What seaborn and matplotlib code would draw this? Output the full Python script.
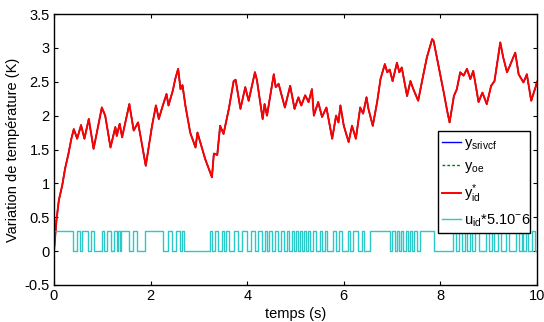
import numpy as np
import pandas as pd
import matplotlib
matplotlib.use("Agg")
import matplotlib.pyplot as plt
import seaborn as sns

# ---- data ----
t_y = [0.0, 0.05, 0.10, 0.17, 0.23, 0.30, 0.36, 0.41, 0.48, 0.56, 0.63, 0.72, 0.82, 0.99, 1.06,
       1.17, 1.27, 1.30, 1.36, 1.41, 1.56, 1.65, 1.74, 1.90, 2.03, 2.11, 2.17, 2.24, 2.33, 2.37,
       2.46, 2.51, 2.57, 2.62, 2.66, 2.72, 2.82, 2.93, 2.97, 3.13, 3.27, 3.31, 3.38, 3.44, 3.51,
       3.62, 3.72, 3.76, 3.86, 3.96, 4.03, 4.16, 4.20, 4.32, 4.36, 4.41, 4.55, 4.59, 4.65, 4.78,
       4.89, 4.98, 5.06, 5.12, 5.20, 5.27, 5.34, 5.38, 5.47, 5.55, 5.64, 5.76, 5.84, 5.89, 5.93,
       6.00, 6.10, 6.17, 6.25, 6.34, 6.40, 6.47, 6.51, 6.60, 6.69, 6.76, 6.85, 6.90, 6.95, 7.01,
       7.10, 7.15, 7.20, 7.27, 7.31, 7.38, 7.44, 7.54, 7.62, 7.72, 7.83, 7.86, 7.96, 8.07, 8.14,
       8.19, 8.28, 8.34, 8.41, 8.48, 8.55, 8.62, 8.68, 8.79, 8.87, 8.96, 9.05, 9.12, 9.24, 9.30,
       9.38, 9.44, 9.55, 9.62, 9.72, 9.79, 9.88, 9.97, 10.0]
y_vals = [0.0, 0.45, 0.75, 0.97, 1.22, 1.44, 1.66, 1.80, 1.66, 1.86, 1.66, 1.95, 1.51, 2.12, 2.00,
          1.53, 1.83, 1.70, 1.88, 1.68, 2.17, 1.78, 1.90, 1.26, 1.85, 2.15, 1.95, 2.12, 2.32, 2.15,
          2.37, 2.54, 2.69, 2.39, 2.45, 2.15, 1.75, 1.53, 1.75, 1.36, 1.09, 1.44, 1.42, 1.85, 1.73,
          2.10, 2.51, 2.53, 2.10, 2.42, 2.22, 2.64, 2.53, 1.95, 2.17, 2.00, 2.61, 2.42, 2.47, 2.12,
          2.44, 2.10, 2.27, 2.15, 2.30, 2.20, 2.39, 2.00, 2.20, 1.98, 2.12, 1.66, 2.00, 1.90, 2.15,
          1.85, 1.61, 1.85, 1.66, 2.12, 2.03, 2.27, 2.10, 1.85, 2.20, 2.54, 2.76, 2.64, 2.68, 2.51,
          2.78, 2.64, 2.71, 2.44, 2.29, 2.51, 2.39, 2.22, 2.51, 2.86, 3.13, 3.10, 2.74, 2.34, 2.07,
          1.90, 2.29, 2.39, 2.64, 2.59, 2.69, 2.54, 2.66, 2.20, 2.34, 2.17, 2.44, 2.51, 3.08, 2.86,
          2.64, 2.74, 2.93, 2.61, 2.49, 2.61, 2.22, 2.42, 2.50]

# switching instants of the excitation (starts high)
u_switch = [0.40, 0.47, 0.54, 0.59, 0.71, 0.76, 0.82, 0.99, 1.04, 1.10, 1.19, 1.24, 1.30, 1.33,
            1.36, 1.39, 1.55, 1.63, 1.72, 1.88, 2.26, 2.35, 2.45, 2.52, 2.60, 2.65, 2.69, 3.23,
            3.28, 3.33, 3.40, 3.47, 3.52, 3.56, 3.62, 3.73, 3.80, 3.90, 4.00, 4.08, 4.16, 4.22,
            4.30, 4.36, 4.40, 4.46, 4.52, 4.58, 4.63, 4.70, 4.76, 4.82, 4.86, 4.92, 4.96, 5.02,
            5.06, 5.10, 5.14, 5.18, 5.22, 5.26, 5.30, 5.36, 5.42, 5.50, 5.55, 5.62, 5.66, 5.78,
            5.83, 5.90, 5.96, 6.08, 6.12, 6.20, 6.30, 6.38, 6.42, 6.55, 6.95, 7.00, 7.05, 7.10,
            7.14, 7.18, 7.23, 7.28, 7.33, 7.37, 7.42, 7.46, 7.52, 7.57, 7.86, 8.27, 8.32, 8.38,
            8.44, 8.50, 8.56, 8.62, 8.66, 8.72, 8.80, 8.94, 9.00, 9.06, 9.12, 9.20, 9.26, 9.36,
            9.42, 9.56, 9.62, 9.68, 9.72, 9.78, 9.82, 9.90, 9.96]
u_high = 0.3
u_low = 0.0

labels = [r"y$_{srivcf}$", r"y$_{oe}$", r"y$^{*}_{id}$", r"u$_{id}$*5.10$^{-}$6"]
x_ticks = [0, 2, 4, 6, 8, 10]
y_ticks = [-0.5, 0, 0.5, 1, 1.5, 2, 2.5, 3, 3.5]
xlabel = "temps (s)"
ylabel = "Variation de température (K)"

# ---- build frames ----
df_y = pd.DataFrame({"t": t_y, "y": y_vals})
u_t = [0.0] + u_switch + [10.0]
u_v = [u_high if i % 2 == 0 else u_low for i in range(len(u_t) - 1)]
u_v.append(u_v[-1])
df_u = pd.DataFrame({"t": u_t, "u": u_v})

plt.rcParams["font.family"] = ["Liberation Sans", "DejaVu Sans"]
plt.rcParams["mathtext.default"] = "regular"

fig = plt.figure(figsize=(5.44, 3.22), dpi=100)
ax = fig.add_axes([54 / 544, 1 - 285 / 322, (537 - 54) / 544, (285 - 14) / 322])

sns.lineplot(data=df_y, x="t", y="y", ax=ax, color="#0000ff", lw=1.0, label=labels[0],
             estimator=None, sort=False)
sns.lineplot(data=df_y, x="t", y="y", ax=ax, color="#008000", lw=1.0, ls=(0, (2, 1.5)),
             label=labels[1], estimator=None, sort=False)
sns.lineplot(data=df_y, x="t", y="y", ax=ax, color="#ff0000", lw=1.4, label=labels[2],
             estimator=None, sort=False)
sns.lineplot(data=df_u, x="t", y="u", ax=ax, color="#2cc8c8", lw=1.0, label=labels[3],
             drawstyle="steps-post", estimator=None, sort=False)

ax.set_xlim(0, 10)
ax.set_ylim(-0.5, 3.5)
ax.set_xticks(x_ticks)
ax.set_xticklabels([str(v) for v in x_ticks])
ax.set_yticks(y_ticks)
ax.set_yticklabels([("%g" % v) for v in y_ticks])
ax.tick_params(direction="in", length=3, width=0.8, labelsize=10.5, top=True, right=True,
               pad=3)
for s in ax.spines.values():
    s.set_linewidth(1.0)
    s.set_color("black")
ax.set_xlabel(xlabel, fontsize=10.5, labelpad=3)
ax.set_ylabel(ylabel, fontsize=10.5, labelpad=3)

leg = ax.legend(loc="lower left", bbox_to_anchor=(0.795, 0.192, 0.19, 0.376), mode="expand",
                fontsize=10.5, frameon=True, fancybox=False, edgecolor="black",
                handlelength=1.3, handletextpad=0.15, borderpad=0.3, labelspacing=0.5,
                borderaxespad=0)
leg.get_frame().set_linewidth(1.0)
leg.get_frame().set_alpha(1)

fig.savefig("out.png", dpi=100)
